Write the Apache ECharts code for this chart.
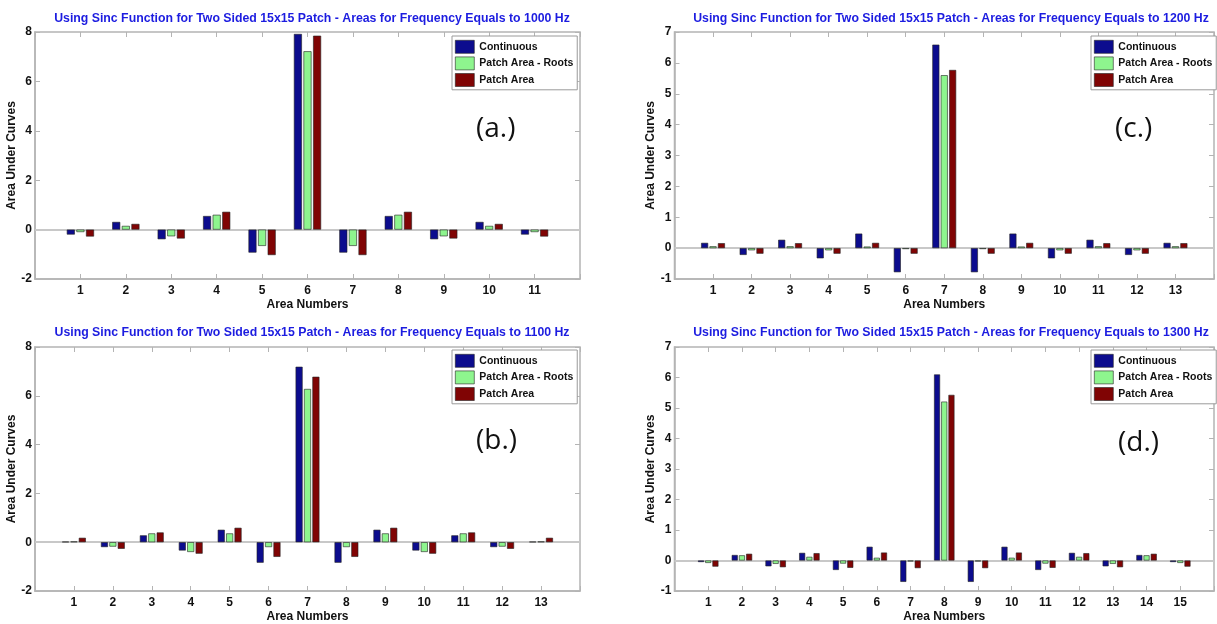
<!DOCTYPE html>
<html>
<head>
<meta charset="utf-8">
<script src="https://cdn.jsdelivr.net/npm/echarts@6/dist/echarts.min.js"></script>
<style>
  html, body { margin: 0; padding: 0; background: #fff; }
  #chart { width: 1217px; height: 624px; }
</style>
</head>
<body>
<div id="chart"></div>
<script>
// Areas under the sinc curve for a two-sided 15x15 patch, four frequencies.
const seriesNames = ['Continuous', 'Patch Area - Roots', 'Patch Area'];
const colors = ['#0c0c8e', '#8ef58e', '#800404'];

// 1000 Hz (11 areas)
const contA  = [-0.20, 0.31, -0.39, 0.55, -0.93, 7.92, -0.93, 0.55, -0.39, 0.31, -0.20];
const rootsA = [-0.10, 0.15, -0.27, 0.60, -0.66, 7.22, -0.66, 0.60, -0.27, 0.15, -0.10];
const patchA = [-0.28, 0.23, -0.36, 0.72, -1.03, 7.85, -1.03, 0.72, -0.36, 0.23, -0.28];

// 1100 Hz (13 areas)
const contB  = [0.02, -0.20, 0.28, -0.34, 0.51, -0.84, 7.19, -0.84, 0.51, -0.34, 0.28, -0.20, 0.02];
const rootsB = [0.03, -0.18, 0.36, -0.40, 0.36, -0.20, 6.28, -0.20, 0.36, -0.40, 0.36, -0.18, 0.03];
const patchB = [0.18, -0.27, 0.40, -0.47, 0.59, -0.60, 6.78, -0.60, 0.59, -0.47, 0.40, -0.27, 0.18];

// 1200 Hz (13 areas)
const contC  = [0.17, -0.22, 0.27, -0.33, 0.47, -0.78, 6.59, -0.78, 0.47, -0.33, 0.27, -0.22, 0.17];
const rootsC = [0.06, -0.07, 0.06, -0.07, 0.05, -0.03, 5.60, -0.03, 0.05, -0.07, 0.06, -0.07, 0.06];
const patchC = [0.16, -0.18, 0.16, -0.18, 0.17, -0.18, 5.77, -0.18, 0.17, -0.18, 0.16, -0.18, 0.16];

// 1300 Hz (15 areas)
const contD  = [-0.05, 0.18, -0.19, 0.25, -0.31, 0.45, -0.70, 6.10, -0.70, 0.45, -0.31, 0.25, -0.19, 0.18, -0.05];
const rootsD = [-0.08, 0.17, -0.11, 0.12, -0.10, 0.09, -0.03, 5.21, -0.03, 0.09, -0.10, 0.12, -0.11, 0.17, -0.08];
const patchD = [-0.20, 0.22, -0.22, 0.24, -0.24, 0.26, -0.25, 5.43, -0.25, 0.26, -0.24, 0.24, -0.22, 0.22, -0.20];

const titles = [
  'Using Sinc Function for Two Sided 15x15 Patch - Areas for Frequency Equals to 1000 Hz',
  'Using Sinc Function for Two Sided 15x15 Patch - Areas for Frequency Equals to 1100 Hz',
  'Using Sinc Function for Two Sided 15x15 Patch - Areas for Frequency Equals to 1200 Hz',
  'Using Sinc Function for Two Sided 15x15 Patch - Areas for Frequency Equals to 1300 Hz'
];
const panelTags = ['(a.)', '(b.)', '(c.)', '(d.)'];
const xName = 'Area Numbers';
const yName = 'Area Under Curves';

const FONT = "'Liberation Sans', Arial, sans-serif";
const AXIS_GRAY = '#b4b4b4';

const panels = [
  { data: [contA, rootsA, patchA], yMin: -2, yMax: 8, yStep: 2, barW: 8,
    grid: { left: 35, right: 637, top: 32, bottom: 345 }, titleX: 307, titleY: 8,
    legend: { left: 452, top: 36 }, tag: { x: 498, y: 133 } },
  { data: [contB, rootsB, patchB], yMin: -2, yMax: 8, yStep: 2, barW: 7,
    grid: { left: 35, right: 637, top: 347, bottom: 31 }, titleX: 307, titleY: 322,
    legend: { left: 452, top: 350 }, tag: { x: 498, y: 445 } },
  { data: [contC, rootsC, patchC], yMin: -1, yMax: 7, yStep: 1, barW: 7,
    grid: { left: 674.5, right: -2, top: 32, bottom: 345 }, titleX: 946, titleY: 8,
    legend: { left: 1091, top: 36 }, tag: { x: 1137, y: 133 } },
  { data: [contD, rootsD, patchD], yMin: -1, yMax: 7, yStep: 1, barW: 6,
    grid: { left: 674.5, right: -2, top: 347, bottom: 31 }, titleX: 946, titleY: 322,
    legend: { left: 1091, top: 350 }, tag: { x: 1140, y: 447 } }
];

const option = {
  animation: false,
  backgroundColor: '#ffffff',
  title: [], grid: [], xAxis: [], yAxis: [], legend: [], series: [], graphic: []
};

panels.forEach((p, k) => {
  const n = p.data[0].length;
  const xi = option.xAxis.length;
  const yi = option.yAxis.length;

  option.title.push({
    text: titles[k], left: p.titleX, top: p.titleY, textAlign: 'center',
    textStyle: { fontFamily: FONT, fontSize: 12.3, fontWeight: 'bold', color: '#1c1ce0' }
  });

  option.grid.push(Object.assign({
    show: true, borderColor: AXIS_GRAY, borderWidth: 1.5, backgroundColor: '#fff'
  }, p.grid));

  // bottom axis with labels and name, top axis only for inner ticks
  option.xAxis.push({
    type: 'value', gridIndex: k, min: 0, max: n + 1, interval: 1,
    name: xName, nameLocation: 'middle', nameGap: 20,
    nameTextStyle: { fontFamily: FONT, fontSize: 12, fontWeight: 'bold', color: '#111' },
    axisLine: { show: true, onZero: false, lineStyle: { color: AXIS_GRAY, width: 1.5 } },
    axisTick: { show: true, inside: true, length: 5, lineStyle: { color: AXIS_GRAY } },
    axisLabel: {
      margin: 6, fontFamily: FONT, fontSize: 12, fontWeight: 'bold', color: '#111',
      formatter: v => (v >= 1 && v <= n) ? String(v) : ''
    },
    splitLine: { show: false }
  });
  option.xAxis.push({
    type: 'value', gridIndex: k, position: 'top', min: 0, max: n + 1, interval: 1,
    axisLine: { show: false, onZero: false },
    axisTick: { show: true, inside: true, length: 5, lineStyle: { color: AXIS_GRAY } },
    axisLabel: { show: false }, splitLine: { show: false }
  });

  option.yAxis.push({
    type: 'value', gridIndex: k, min: p.yMin, max: p.yMax, interval: p.yStep,
    name: yName, nameLocation: 'middle', nameGap: 14,
    nameTextStyle: { fontFamily: FONT, fontSize: 12, fontWeight: 'bold', color: '#111' },
    axisLine: { show: true, onZero: false, lineStyle: { color: AXIS_GRAY, width: 1.5 } },
    axisTick: { show: true, inside: true, length: 5, lineStyle: { color: AXIS_GRAY } },
    axisLabel: { margin: 3, fontFamily: FONT, fontSize: 12, fontWeight: 'bold', color: '#111' },
    splitLine: { show: false }
  });
  option.yAxis.push({
    type: 'value', gridIndex: k, position: 'right', min: p.yMin, max: p.yMax, interval: p.yStep,
    axisLine: { show: false, onZero: false },
    axisTick: { show: true, inside: true, length: 5, lineStyle: { color: AXIS_GRAY } },
    axisLabel: { show: false }, splitLine: { show: false }
  });

  p.data.forEach((vals, s) => {
    const ser = {
      name: seriesNames[s], type: 'bar',
      xAxisIndex: xi, yAxisIndex: yi,
      barWidth: p.barW, barGap: '20%',
      itemStyle: { color: colors[s], borderColor: '#222', borderWidth: 0.6 },
      data: vals.map((v, i) => [i + 1, v])
    };
    if (s === 0) {
      // grey baseline at zero
      ser.markLine = {
        silent: true, symbol: 'none', label: { show: false },
        lineStyle: { color: '#c8c8c8', width: 2, type: 'solid' },
        data: [{ yAxis: 0 }], z: 1
      };
    }
    option.series.push(ser);
  });

  option.legend.push({
    data: seriesNames.map(nm => ({ name: nm, icon: 'rect' })),
    orient: 'vertical', left: p.legend.left, top: p.legend.top,
    itemWidth: 19, itemHeight: 13, itemGap: 3,
    padding: [4, 4, 3, 3],
    borderColor: '#9a9a9a', borderWidth: 1, backgroundColor: '#fff',
    selectedMode: false,
    itemStyle: { borderWidth: 0.6, borderColor: '#222' },
    textStyle: { fontFamily: FONT, fontSize: 10.5, fontWeight: 'bold', color: '#111' }
  });

  option.graphic.push({
    type: 'text', left: p.tag.x - 22, top: p.tag.y - 18,
    style: {
      text: panelTags[k], fill: '#111', font: "28px 'Open Sans', 'Noto Sans', sans-serif"
    }
  });
});

const chart = echarts.init(document.getElementById('chart'), null, { renderer: 'canvas' });
chart.setOption(option);
</script>
</body>
</html>
